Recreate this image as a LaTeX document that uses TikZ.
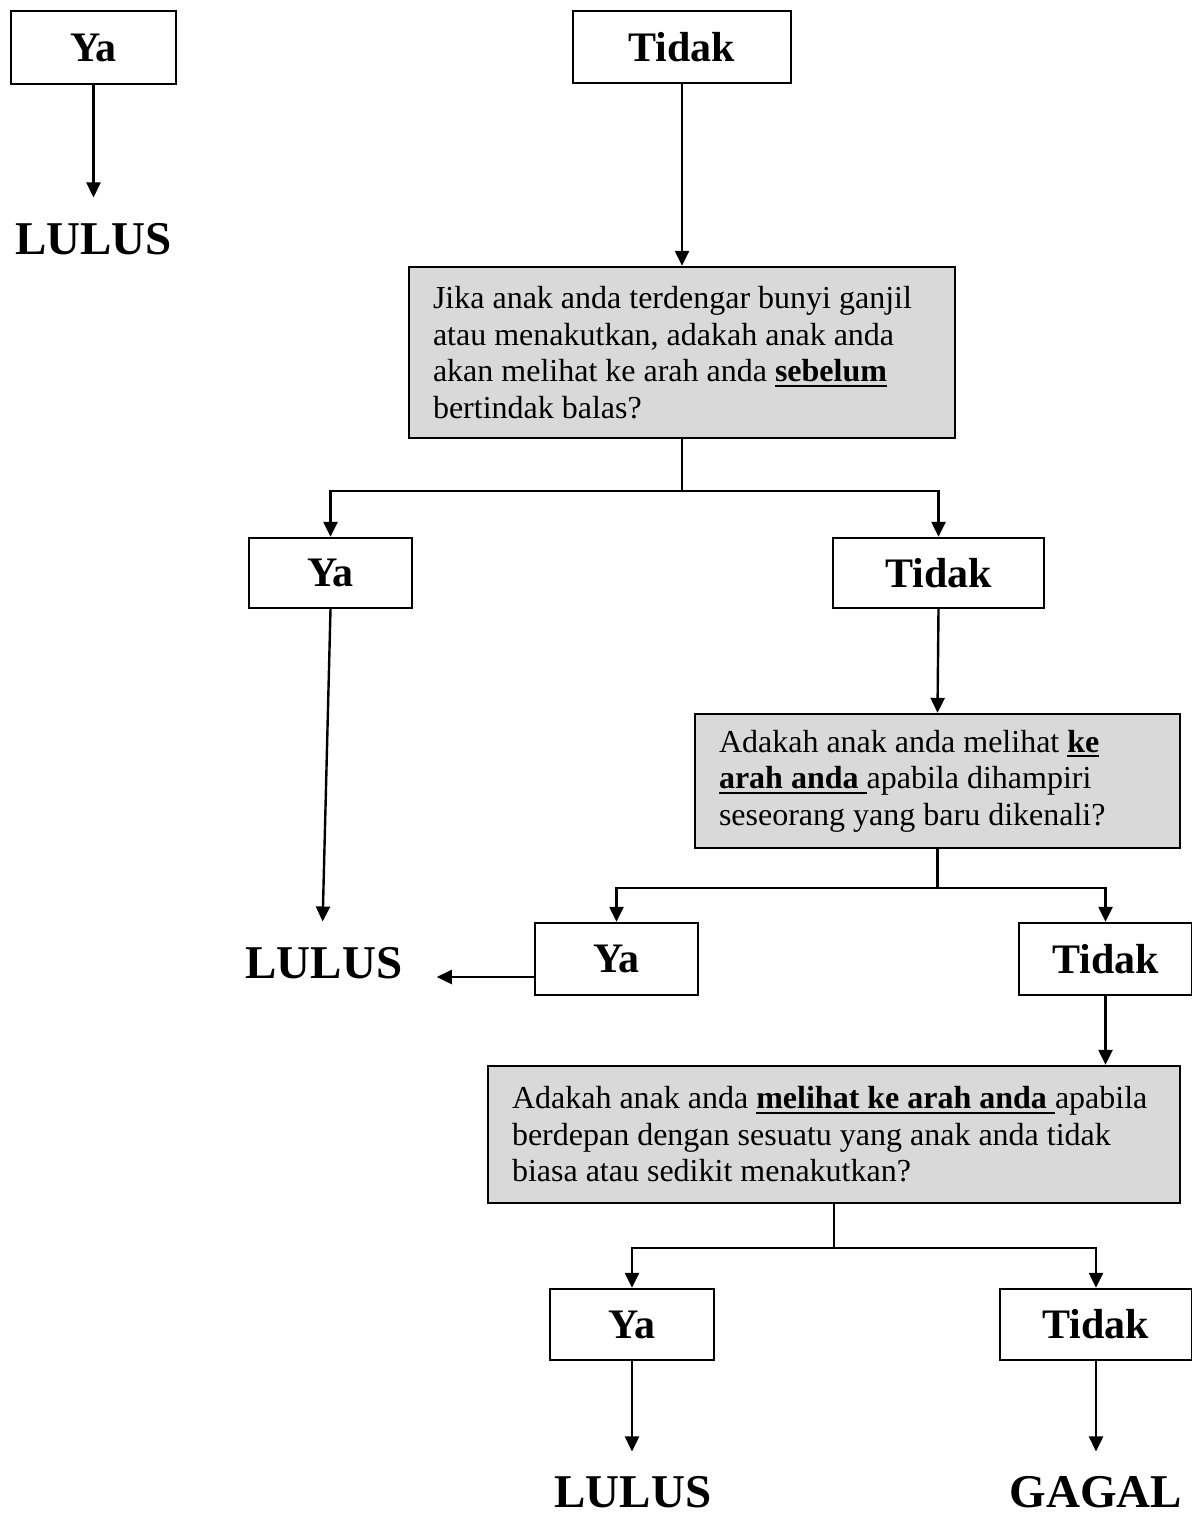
\documentclass[tikz,border=0pt]{standalone}
\usepackage{fontspec}
\setmainfont{Liberation Serif}
\usetikzlibrary{arrows.meta,calc}
\definecolor{boxgray}{HTML}{D9D9D9}
\newcommand\myul[1]{\leavevmode\setbox0\hbox{#1}\rlap{\rule[-2.6pt]{\wd0}{1.1pt}}\box0}
\begin{document}
\begin{tikzpicture}[x=0.5pt,y=-0.5pt,
  lbl/.style={draw, line width=1.2pt, inner sep=0pt, font=\fontsize{21}{24}\selectfont\bfseries},
  qbox/.style={draw, line width=1.2pt, fill=boxgray, align=flush left, inner xsep=12pt, inner ysep=0pt, font=\fontsize{16}{18.25}\selectfont},
  res/.style={inner sep=0pt, anchor=base, font=\fontsize{23.5}{26}\selectfont\bfseries},
  arr/.style={line width=1.2pt, -{Triangle[length=7.5pt,width=7pt]}},
  conn/.style={line width=1.2pt}]
\useasboundingbox (0,0) rectangle (1192,1515);

\node[lbl, minimum width=82.5pt, minimum height=36.5pt] (ya1) at (93.5,47.5) {Ya};
\node[lbl, minimum width=109pt, minimum height=36pt] (tidak1) at (682,47) {Tidak};
\node[res] (lulus1) at (93.5,254) {LULUS};

\node[qbox, text width=249pt, minimum width=273pt, minimum height=85.5pt] (q1) at (682,352.5)
  {Jika anak anda terdengar bunyi ganjil\\atau menakutkan, adakah anak anda\\akan melihat ke arah anda \myul{\textbf{sebelum}}\\bertindak balas?};

\node[lbl, minimum width=81.5pt, minimum height=35pt] (ya2) at (330.5,573) {Ya};
\node[lbl, minimum width=105.5pt, minimum height=35pt] (tidak2) at (938.5,573) {Tidak};

\node[qbox, text width=218.5pt, minimum width=242.5pt, minimum height=67pt] (q2) at (937.5,781)
  {Adakah anak anda melihat \myul{\textbf{ke}}\\\myul{\textbf{arah anda }}apabila dihampiri\\seseorang yang baru dikenali?};

\node[lbl, minimum width=81.5pt, minimum height=36pt] (ya3) at (616.5,959) {Ya};
\node[lbl, minimum width=86.5pt, minimum height=36pt] (tidak3) at (1105.5,959) {Tidak};
\node[res] (lulus2) at (324,978) {LULUS};

\node[qbox, text width=322pt, minimum width=346pt, minimum height=68.5pt] (q3) at (834,1134.5)
  {Adakah anak anda \myul{\textbf{melihat ke arah anda }}apabila\\berdepan dengan sesuatu yang anak anda tidak\\biasa atau sedikit menakutkan?};

\node[lbl, minimum width=82pt, minimum height=35.5pt] (ya4) at (632,1324.5) {Ya};
\node[lbl, minimum width=96pt, minimum height=35.5pt] (tidak4) at (1096,1324.5) {Tidak};
\node[res] (lulus3) at (633,1507) {LULUS};
\node[res] (gagal) at (1096,1507) {GAGAL};

% connectors
\draw[arr, shorten >=12.5pt] (ya1.south) -- (ya1.south |- lulus1.north);
\draw[arr] (tidak1.south) -- (q1.north);

\draw[conn] (q1.south) -- ++(0,52) coordinate (j1);
\draw[arr] (j1) -| (ya2.north);
\draw[arr] (j1) -| (tidak2.north);

\draw[arr, shorten >=12.5pt] (ya2.south) -- ($(lulus2.north)+(-2,0)$);
\draw[arr] (tidak2.south) -- (q2.north);

\draw[conn] (q2.south) -- ++(0,39) coordinate (j2);
\draw[arr] (j2) -| (ya3.north);
\draw[arr] (j2) -| (tidak3.north);

\coordinate (ya3w) at ($(ya3.west)+(0,18)$);
\draw[arr, shorten >=17pt] (ya3w) -- (lulus2.east |- ya3w);
\draw[arr] (tidak3.south) -- (tidak3.south |- q3.north);

\draw[conn] (q3.south) -- ++(0,44) coordinate (j3);
\draw[arr] (j3) -| (ya4.north);
\draw[arr] (j3) -| (tidak4.north);

\draw[arr, shorten >=12pt] (ya4.south) -- (ya4.south |- lulus3.north);
\draw[arr, shorten >=12pt] (tidak4.south) -- (tidak4.south |- gagal.north);
\end{tikzpicture}
\end{document}
